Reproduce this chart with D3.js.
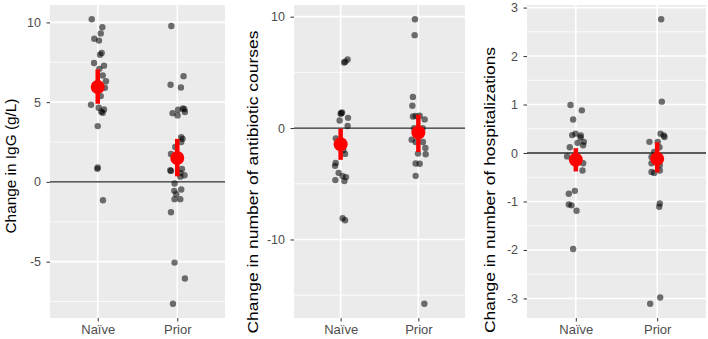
<!DOCTYPE html>
<html>
<head>
<meta charset="utf-8">
<script src="https://cdn.jsdelivr.net/npm/d3@7"></script>
<style>
  body { margin: 0; background: #fff; }
  svg { display: block; font-family: "Liberation Sans", Arial, sans-serif; }
</style>
</head>
<body>
<div id="chart"></div>
<script>
// groups on the x axis
const categories = ["Naïve", "Prior"];

// IgG change (g/L) and horizontal jitter (in category units)
const iggNaive = [10.2, 9.7, 9.31, 8.98, 8.86, 8.09, 7.98, 7.46, 7.29, 7.09, 6.67, 6.31, 5.9, 5.38, 4.84, 4.65, 4.54, 4.34, 4.4, 3.5, 0.9, 0.82, -1.15];
const iggNaiveJit = [-0.075, 0.058, 0.038, -0.043, 0.016, 0.05, 0.029, -0.046, 0.079, 0.02, 0.063, 0.104, 0.09, 0.038, -0.084, 0.013, 0.079, 0.063, 0.045, 0, 0, -0.005, 0.066];
const iggPrior = [9.78, 6.09, 6.63, 5.92, 4.31, 4.17, 4.52, 4.6, 4.56, 4.38, 2.81, 2.7, 2.5, 2.19, 1.75, 0.73, 0.69, 0.81, 0.56, 0.42, 0.33, -0.1, -0.56, -0.77, -0.48, -1.08, -1.08, -1.9, -5.06, -6.06, -7.64];
const iggPriorJit = [-0.075, -0.084, 0.079, 0.046, -0.059, 0.004, 0.01, 0.071, 0.088, 0.096, 0.05, 0.066, 0.05, -0.025, -0.079, -0.088, -0.079, 0.059, 0.038, 0.091, 0.038, -0.034, -0.038, -0.013, 0.05, -0.034, 0.038, -0.079, -0.034, 0.096, -0.054];

// antibiotic courses
const abxNaive = [5.89, 5.95, 6.16, 1.34, 1.4, 1.28, 0.68, 0.92, 0.18, -0.92, -2.32, -3.13, -3.39, -4.02, -4.31, -4.4, -4.67, -4.75, -8.09, -8.27, -2.0];
const abxNaiveJit = [0.044, 0.06, 0.09, 0.009, 0.018, 0, -0.013, 0.095, 0.09, -0.062, 0.057, -0.064, -0.072, -0.026, 0.026, 0.069, -0.068, 0.048, 0.026, 0.057, 0.035];
const abxPrior = [9.77, 8.34, 2.8, 2.0, 1.04, 1.08, 1.1, 0.78, 0.0, 0.0, -1.04, -1.25, -1.25, -1.79, -2.29, -2.35, -3.18, -3.2, -4.29, -15.77];
const abxPriorJit = [-0.044, -0.048, -0.07, -0.077, -0.07, -0.035, 0.017, 0.081, -0.054, 0.055, -0.086, -0.035, 0.059, 0.09, -0.005, 0.094, -0.035, 0.017, -0.035, 0.077];

// hospitalizations
const hospNaive = [0.99, 0.88, 0.69, 0.37, 0.4, 0.32, 0.36, 0.21, 0.16, 0.23, 0.12, -0.07, -0.21, -0.36, -0.78, -0.84, -1.06, -1.08, -1.19, -1.98];
const hospNaiveJit = [-0.065, 0.074, -0.033, -0.045, -0.004, 0.058, 0.061, 0.021, 0.09, 0.098, -0.074, -0.107, 0.09, 0.082, -0.012, -0.086, -0.086, -0.053, 0.009, -0.033];
const hospPrior = [2.76, 1.06, 0.4, 0.36, 0.33, 0.23, 0.23, 0.12, 0.02, -0.08, -0.12, -0.21, -0.25, -0.39, -0.36, -0.41, -1.04, -1.11, -2.98, -3.11];
const hospPriorJit = [0.049, 0.057, 0.041, 0.081, 0.09, -0.095, 0.007, 0.028, -0.037, -0.07, 0.012, -0.07, 0.032, -0.07, 0.032, -0.037, 0.032, 0.025, 0.037, -0.086];

// mean and interval per group (Naïve, Prior)
const iggMean = [5.95, 1.5], iggLo = [4.9, 0.35], iggHi = [7.05, 2.7];
const abxMean = [-1.45, -0.4], abxLo = [-2.85, -2.15], abxHi = [-0.05, 1.2];
const hospMean = [-0.14, -0.12], hospLo = [-0.38, -0.4], hospHi = [0.1, 0.22];

// tick labels
const iggTicks = [-5, 0, 5, 10];
const abxTicks = [-10, 0, 10];
const hospTicks = [-3, -2, -1, 0, 1, 2, 3];

const titles = ["Change in IgG (g/L)", "Change in number of antibiotic courses", "Change in number of hospitalizations"];

const width = 708, height = 339;
const plotTop = 5, plotBottom = 318;

const svg = d3.select("#chart").append("svg")
    .attr("width", width)
    .attr("height", height);

const panels = [
    { x0: 50, x1: 225, tx: 16, ty: 166, tlen: 135, ticks: iggTicks, title: titles[0],
      groups: [[iggNaive, iggNaiveJit], [iggPrior, iggPriorJit]], mean: iggMean, lo: iggLo, hi: iggHi },
    { x0: 294, x1: 465, tx: 257.5, ty: 182, tlen: 303, ticks: abxTicks, title: titles[1],
      groups: [[abxNaive, abxNaiveJit], [abxPrior, abxPriorJit]], mean: abxMean, lo: abxLo, hi: abxHi },
    { x0: 527, x1: 706, tx: 495, ty: 190, tlen: 286, ticks: hospTicks, title: titles[2],
      groups: [[hospNaive, hospNaiveJit], [hospPrior, hospPriorJit]], mean: hospMean, lo: hospLo, hi: hospHi }
];

panels.forEach(p => {
    const g = svg.append("g");

    // y domain like ggplot: data range + 5% each side
    const all = p.groups[0][0].concat(p.groups[1][0], p.lo, p.hi);
    const ext = d3.extent(all);
    const pad = (ext[1] - ext[0]) * 0.05;
    const y = d3.scaleLinear().domain([ext[0] - pad, ext[1] + pad]).range([plotBottom, plotTop]);
    const x = d3.scalePoint().domain(categories).range([p.x0, p.x1]).padding(0.6);
    const step = x.step();

    // panel background
    g.append("rect")
        .attr("x", p.x0).attr("y", plotTop)
        .attr("width", p.x1 - p.x0).attr("height", plotBottom - plotTop)
        .attr("fill", "#ebebeb");

    // minor grid halfway between majors
    const half = (p.ticks[1] - p.ticks[0]) / 2;
    const minor = [p.ticks[0] - half].concat(p.ticks.map(t => t + half))
        .filter(t => t > y.domain()[0] && t < y.domain()[1]);
    g.selectAll(".minor").data(minor).enter().append("line")
        .attr("x1", p.x0).attr("x2", p.x1)
        .attr("y1", d => y(d)).attr("y2", d => y(d))
        .attr("stroke", "#fff").attr("stroke-width", 0.8);

    g.selectAll(".major").data(p.ticks).enter().append("line")
        .attr("x1", p.x0).attr("x2", p.x1)
        .attr("y1", d => y(d)).attr("y2", d => y(d))
        .attr("stroke", "#fff").attr("stroke-width", 1.6);

    g.selectAll(".vmajor").data(categories).enter().append("line")
        .attr("x1", d => x(d)).attr("x2", d => x(d))
        .attr("y1", plotTop).attr("y2", plotBottom)
        .attr("stroke", "#fff").attr("stroke-width", 1.6);

    // zero reference line
    g.append("line")
        .attr("x1", p.x0).attr("x2", p.x1)
        .attr("y1", y(0)).attr("y2", y(0))
        .attr("stroke", "#262626").attr("stroke-width", 1.3);

    // jittered points
    p.groups.forEach((grp, i) => {
        const pts = d3.zip(grp[0], grp[1]);
        g.append("g").selectAll("circle").data(pts).enter().append("circle")
            .attr("cx", d => x(categories[i]) + d[1] * step)
            .attr("cy", d => y(d[0]))
            .attr("r", 3.2)
            .attr("fill", "#000")
            .attr("fill-opacity", 0.55);
    });

    // mean + interval in red
    const summ = categories.map((c, i) => ({ c: c, m: p.mean[i], lo: p.lo[i], hi: p.hi[i] }));
    g.selectAll(".bar").data(summ).enter().append("line")
        .attr("x1", d => x(d.c)).attr("x2", d => x(d.c))
        .attr("y1", d => y(d.lo)).attr("y2", d => y(d.hi))
        .attr("stroke", "#ff0000").attr("stroke-width", 4.5);
    g.selectAll(".mean").data(summ).enter().append("circle")
        .attr("cx", d => x(d.c)).attr("cy", d => y(d.m))
        .attr("r", 7)
        .attr("fill", "#ff0000");

    // axes
    const ya = g.append("g")
        .attr("transform", `translate(${p.x0},0)`)
        .call(d3.axisLeft(y).tickValues(p.ticks).tickFormat(d => String(d))
            .tickSize(3.5).tickPadding(5.5));
    const xa = g.append("g")
        .attr("transform", `translate(0,${plotBottom})`)
        .call(d3.axisBottom(x).tickSize(3.5).tickPadding(3.2));
    [ya, xa].forEach(a => {
        a.select(".domain").remove();
        a.selectAll(".tick line").attr("stroke", "#333").attr("stroke-width", 1);
        a.selectAll("text").attr("fill", "#4d4d4d").style("font-family", '"Liberation Sans", Arial, sans-serif');
    });
    ya.selectAll("text").style("font-size", "12.5px");
    xa.selectAll("text").style("font-size", "13px");

    // y title
    g.append("text")
        .attr("transform", `translate(${p.tx},${p.ty}) rotate(-90)`)
        .attr("text-anchor", "middle")
        .attr("textLength", p.tlen)
        .attr("lengthAdjust", "spacingAndGlyphs")
        .style("font-size", "15.5px")
        .attr("fill", "#000")
        .text(p.title);
});
</script>
</body>
</html>
